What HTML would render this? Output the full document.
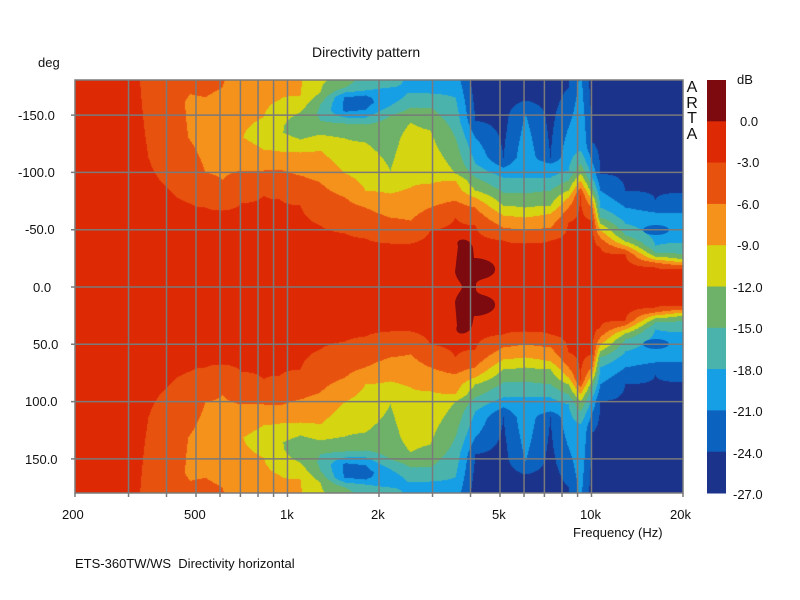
<!DOCTYPE html>
<html><head><meta charset="utf-8"><style>
body{margin:0;background:#fff;width:800px;height:600px;overflow:hidden;position:relative;font-family:"Liberation Sans",Arial,sans-serif;color:#111}
.t{position:absolute;font-size:13px;white-space:nowrap}
canvas{position:absolute;left:75px;top:80px}
svg{position:absolute;left:0;top:0}
</style></head><body>
<canvas id="c" width="608" height="413"></canvas>
<svg width="800" height="600" id="s"></svg>
<div class="t" style="left:312px;top:44px;font-size:14px">Directivity pattern</div>
<div class="t" style="left:38px;top:55px">deg</div>
<div class="t" style="left:18px;top:108px">-150.0</div>
<div class="t" style="left:18px;top:165px">-100.0</div>
<div class="t" style="left:25px;top:222px">-50.0</div>
<div class="t" style="left:33px;top:280px">0.0</div>
<div class="t" style="left:33px;top:337px">50.0</div>
<div class="t" style="left:25px;top:394px">100.0</div>
<div class="t" style="left:25px;top:452px">150.0</div>
<div class="t" style="left:62px;top:507px">200</div>
<div class="t" style="left:184px;top:507px">500</div>
<div class="t" style="left:280px;top:507px">1k</div>
<div class="t" style="left:371px;top:507px">2k</div>
<div class="t" style="left:492px;top:507px">5k</div>
<div class="t" style="left:580px;top:507px">10k</div>
<div class="t" style="left:670px;top:507px">20k</div>
<div class="t" style="left:573px;top:525px">Frequency (Hz)</div>
<div class="t" style="left:75px;top:556px">ETS-360TW/WS&nbsp; Directivity horizontal</div>
<div class="t" style="left:686px;top:80px;font-size:16px;line-height:15.5px;text-align:center;width:12px">A<br>R<br>T<br>A</div>
<div class="t" style="left:737px;top:72px">dB</div>
<div class="t" style="left:740px;top:114px">0.0</div>
<div class="t" style="left:737px;top:155px">-3.0</div>
<div class="t" style="left:737px;top:197px">-6.0</div>
<div class="t" style="left:737px;top:238px">-9.0</div>
<div class="t" style="left:733px;top:280px">-12.0</div>
<div class="t" style="left:733px;top:321px">-15.0</div>
<div class="t" style="left:733px;top:363px">-18.0</div>
<div class="t" style="left:733px;top:404px">-21.0</div>
<div class="t" style="left:733px;top:446px">-24.0</div>
<div class="t" style="left:733px;top:487px">-27.0</div>
<script>
var pal=["#7d0a0e","#dd2a05","#e8520f","#f5921b","#d6d512","#6db268","#4ab4ac","#169fe4","#0c62bf","#1b338b"];
var cols=[
[75,[[0,1.3],[210,1.5]]],
[135,[[0,1.3],[210,1.8]]],
[148,[[0,1.3],[130,2],[210,2.4]]],
[170,[[0,1.3],[97,2],[160,2.7],[210,2.8]]],
[190,[[0,1.3],[84,2],[150,3.05],[185,3.1],[210,2.8]]],
[205,[[0,1.3],[80,2],[115,3],[150,3.4],[190,3],[210,2.8]]],
[222,[[0,1.3],[77,2],[108,3],[150,3.6],[200,3],[210,2.95]]],
[240,[[0,1.3],[84,2],[117,3],[150,3.95],[190,3.4],[210,3.2]]],
[263,[[0,1.3],[92,2],[117,3],[138,4],[155,4.5],[170,4],[210,3.5]]],
[280,[[0,1.3],[88,2],[118,3],[136,4],[155,4.95],[172,4.6],[188,4],[210,3.8]]],
[300,[[0,1.3],[82,2],[112,3],[135,4],[148,5],[162,5.8],[175,5],[192,4],[210,3.9]]],
[320,[[0,1.3],[62,2],[105,3],[137,4],[153,5],[167,6],[175,6.2],[183,6],[195,5],[210,4.8]]],
[345,[[0,1.3],[54,2],[90,3],[114,4],[149,5],[164,6],[170,7],[177,8.2],[190,8.2],[195,7],[200,6],[207,5.5]]],
[365,[[0,1.3],[49,2],[80,3],[97,4],[145,5],[163,6],[170,7],[178,8],[185,8.4],[192,8],[197,7],[207,6.5]]],
[390,[[0,1.3],[44,2],[70,3],[94,4],[117,5],[165,5.6],[172,6],[182,7],[190,7.6],[200,7],[207,6.5]]],
[410,[[0,1.3],[44,2],[67,3],[100,4],[150,4.6],[165,5],[180,6],[195,7],[207,7.3]]],
[430,[[0,1.2],[57,2],[80,3],[104,4],[140,4.7],[157,5],[180,6],[194,7],[207,7.5]]],
[455,[[0,1.2],[70,2],[87,3],[107,4],[114,5],[150,6],[190,7],[207,7.5]]],
[475,[[0,1.2],[62,2],[80,3],[90,4],[97,5],[110,6],[124,7],[150,8],[167,9],[207,9.5]]],
[503,[[0,1.2],[47,2],[60,3],[72,4],[82,5],[95,6],[110,7],[120,8],[130,9],[207,9.6]]],
[525,[[0,1.2],[44,2],[57,3],[70,4],[80,5],[94,6],[110,7],[174,8],[187,9],[207,9.3]]],
[550,[[0,1.2],[47,2],[60,3],[74,4],[82,5],[97,6],[110,7],[124,8],[130,9],[207,9.5]]],
[568,[[0,1.2],[65,2],[80,3],[90,4],[97,5],[107,6],[117,7],[160,8],[200,9],[207,9.1]]],
[580,[[0,1.2],[93,2],[100,3],[107,4],[114,5],[124,6],[137,7],[207,7.8]]],
[592,[[0,1.2],[67,2],[80,3],[87,4],[93,5],[100,6],[110,7],[125,8],[145,9],[207,9.5]]],
[600,[[0,1.2],[40,2],[50,3],[57,4],[64,5],[70,6],[80,7],[97,8],[114,9],[207,9.9]]],
[625,[[0,1.2],[33,2],[38,3],[42,4],[46,5],[52,6],[64,7],[80,8],[97,9],[207,9.9]]],
[655,[[0,1.2],[20,2],[25,3],[28,4],[31,5],[35,6],[42,7],[75,8],[88,9],[207,9.9]]],
[683,[[0,1.2],[18,2],[22,3],[25,4],[28,5],[33,6],[45,7],[75,8],[95,9],[207,9.9]]]
];
function ev(p,d){if(d<=p[0][0])return p[0][1];for(var i=1;i<p.length;i++){if(d<=p[i][0]){var a=p[i-1],b=p[i];return a[1]+(b[1]-a[1])*(d-a[0])/(b[0]-a[0]);}}return p[p.length-1][1];}
function hex(h){return [parseInt(h.substr(1,2),16),parseInt(h.substr(3,2),16),parseInt(h.substr(5,2),16)];}
var P=pal.map(hex);
var cv=document.getElementById('c'),ctx=cv.getContext('2d'),W=608,H=413;
var img=ctx.createImageData(W,H),D=img.data;
for(var px=0;px<W;px++){var x=px+75;var j=0;while(j<cols.length-2&&cols[j+1][0]<x)j++;
var c0=cols[j],c1=cols[j+1];var t=Math.max(0,Math.min(1,(x-c0[0])/(c1[0]-c0[0])));
for(var r=0;r<H;r++){var d=Math.abs(r-207);var v=ev(c0[1],d)*(1-t)+ev(c1[1],d)*t;var k=Math.max(0,Math.min(9,Math.floor(v)));var o=(r*W+px)*4;D[o]=P[k][0];D[o+1]=P[k][1];D[o+2]=P[k][2];D[o+3]=255;}}
ctx.putImageData(img,0,0);
var s='';
// dark red blob
s+='<path fill="#7d0a0e" d="M458,246 C454,238 470,236 473,248 L474,258 C486,258 499,264 494,273 C488,280 478,278 476,284 L476,290 C478,296 488,294 494,301 C499,310 486,316 474,316 L472,326 C468,337 453,335 457,326 L455,302 C457,293 462,291 462,287 C462,283 457,281 455,272 Z"/>';
s+='<ellipse cx="656" cy="230" rx="13" ry="5" fill="#0c62bf"/><ellipse cx="656" cy="344" rx="13" ry="5" fill="#0c62bf"/>';
var fs=[300,400,500,600,700,800,900,1000,2000,3000,4000,5000,6000,7000,8000,9000,10000];
fs.forEach(function(f){var x=75+304*Math.log10(f/200);s+='<line x1="'+x+'" y1="80" x2="'+x+'" y2="497" stroke="#7a7a7a" stroke-width="1.5"/>';});
[-150,-100,-50,0,50,100,150].forEach(function(a){var y=287+a*57.3/50;s+='<line x1="71" y1="'+y+'" x2="683" y2="'+y+'" stroke="#7a7a7a" stroke-width="1.5"/>';});
s+='<rect x="75" y="80" width="608" height="413" fill="none" stroke="#7a7a7a" stroke-width="1.5"/>';
s+='<line x1="75" y1="493" x2="75" y2="497" stroke="#7a7a7a" stroke-width="1.5"/><line x1="683" y1="493" x2="683" y2="497" stroke="#7a7a7a" stroke-width="1.5"/>';
for(var i=0;i<10;i++){s+='<rect x="707" y="'+(80+i*41.3)+'" width="19" height="41.8" fill="'+pal[i]+'"/>';}
document.getElementById('s').innerHTML=s;
</script>
</body></html>
